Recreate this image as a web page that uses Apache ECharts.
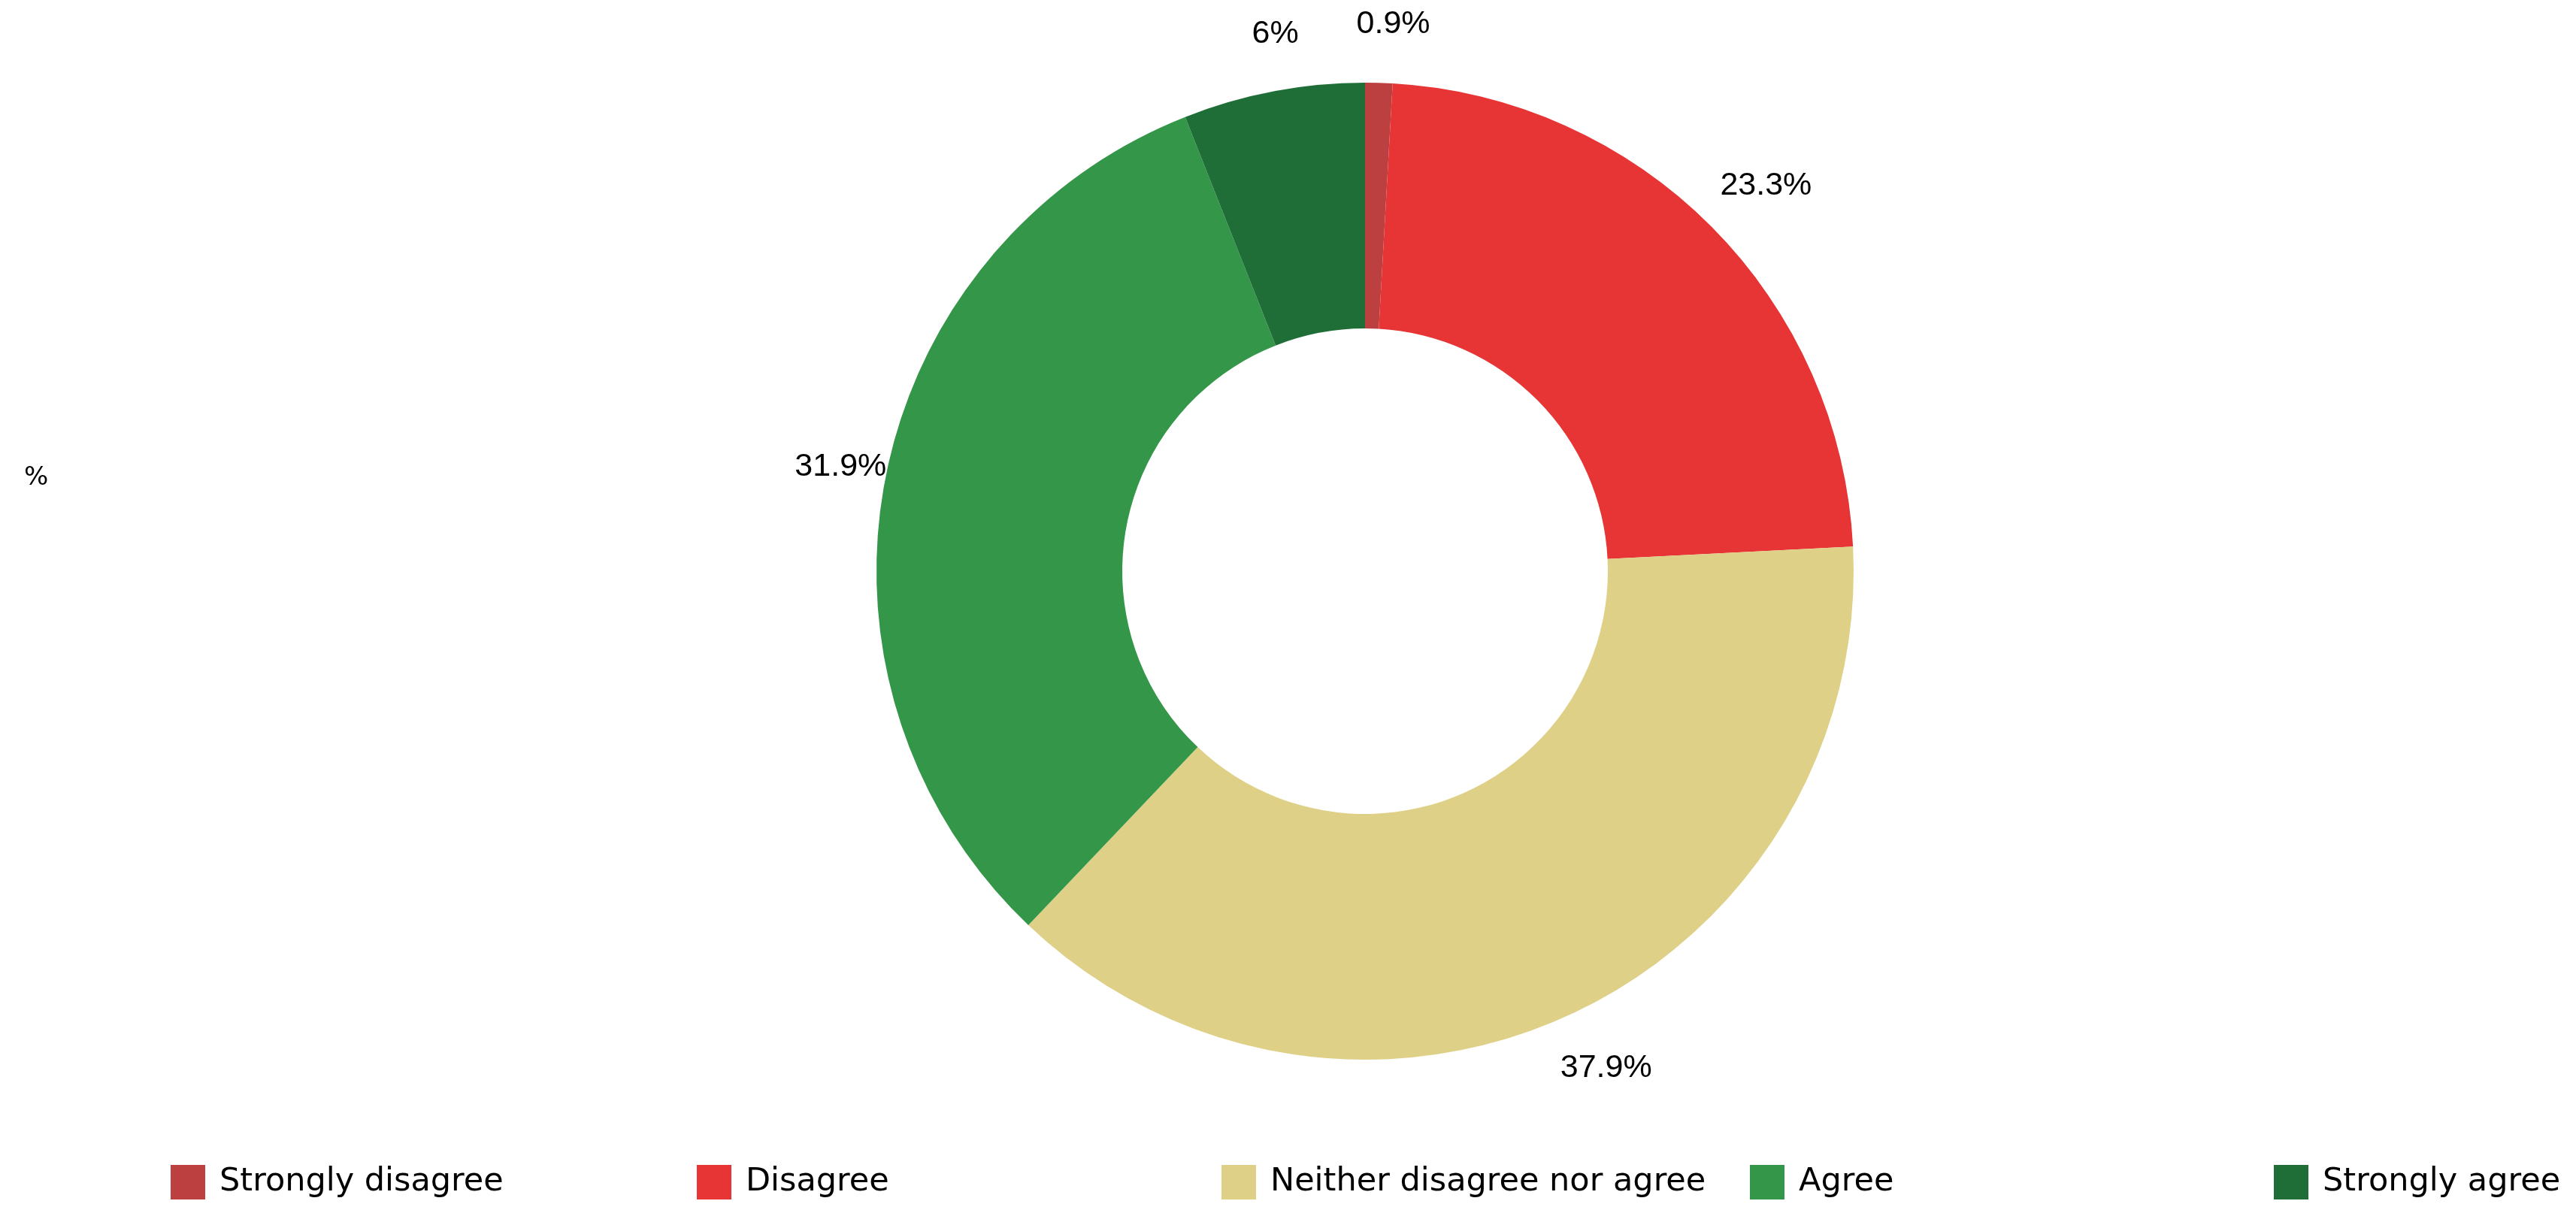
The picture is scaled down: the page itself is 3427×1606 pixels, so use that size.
<!DOCTYPE html>
<html>
<head>
<meta charset="utf-8">
<script src="https://cdn.jsdelivr.net/npm/echarts@6/dist/echarts.min.js"></script>
<style>html,body{margin:0;padding:0;background:#fff;}#c{width:3427px;height:1606px;}</style>
</head>
<body>
<div id="c"></div>
<script>
const categories = ['Strongly disagree', 'Disagree', 'Neither disagree nor agree', 'Agree', 'Strongly agree'];
const values = [0.9, 23.3, 37.9, 31.9, 6];
const colors = ['#bc4040', '#e73434', '#dfd088', '#339649', '#206e37'];
const unitLabel = '%';

const legendLefts = [222, 922, 1620, 2323, 3020];

const chart = echarts.init(document.getElementById('c'), null, {renderer: 'canvas'});
const pieData = categories.map((n, i) => ({name: n, value: values[i]}));
chart.setOption({
  backgroundColor: '#ffffff',
  animation: false,
  color: colors,
  title: {
    text: unitLabel,
    left: 27,
    top: 614,
    textStyle: {fontFamily: 'DejaVu Sans', fontSize: 34, fontWeight: 'normal', color: '#000'}
  },
  legend: categories.map((n, i) => ({
    left: legendLefts[i],
    top: 1545,
    itemWidth: 46,
    itemHeight: 46,
    itemGap: 0,
    icon: 'rect',
    selectedMode: false,
    data: [n],
    textStyle: {
      fontFamily: 'DejaVu Sans',
      fontSize: 43,
      color: '#000',
      padding: [0, 0, 0, 14]
    }
  })),
  series: [{
    type: 'pie',
    center: [1816, 760],
    radius: [323, 650],
    startAngle: 90,
    clockwise: true,
    data: pieData,
    label: {show: false},
    labelLine: {show: false},
    itemStyle: {borderWidth: 0},
    emphasis: {disabled: true}
  }, {
    type: 'pie',
    center: [1816, 760],
    radius: [705, 745],
    startAngle: 90,
    clockwise: true,
    silent: true,
    data: pieData,
    itemStyle: {color: 'rgba(0,0,0,0)', borderWidth: 0},
    label: {
      show: true,
      position: 'inside',
      formatter: p => p.value + '%',
      fontFamily: 'Liberation Sans',
      fontSize: 43,
      color: '#000',
      textBorderWidth: 0,
      padding: [0, 0, 0, 34]
    },
    labelLine: {show: false},
    emphasis: {disabled: true}
  }]
});
</script>
</body>
</html>
